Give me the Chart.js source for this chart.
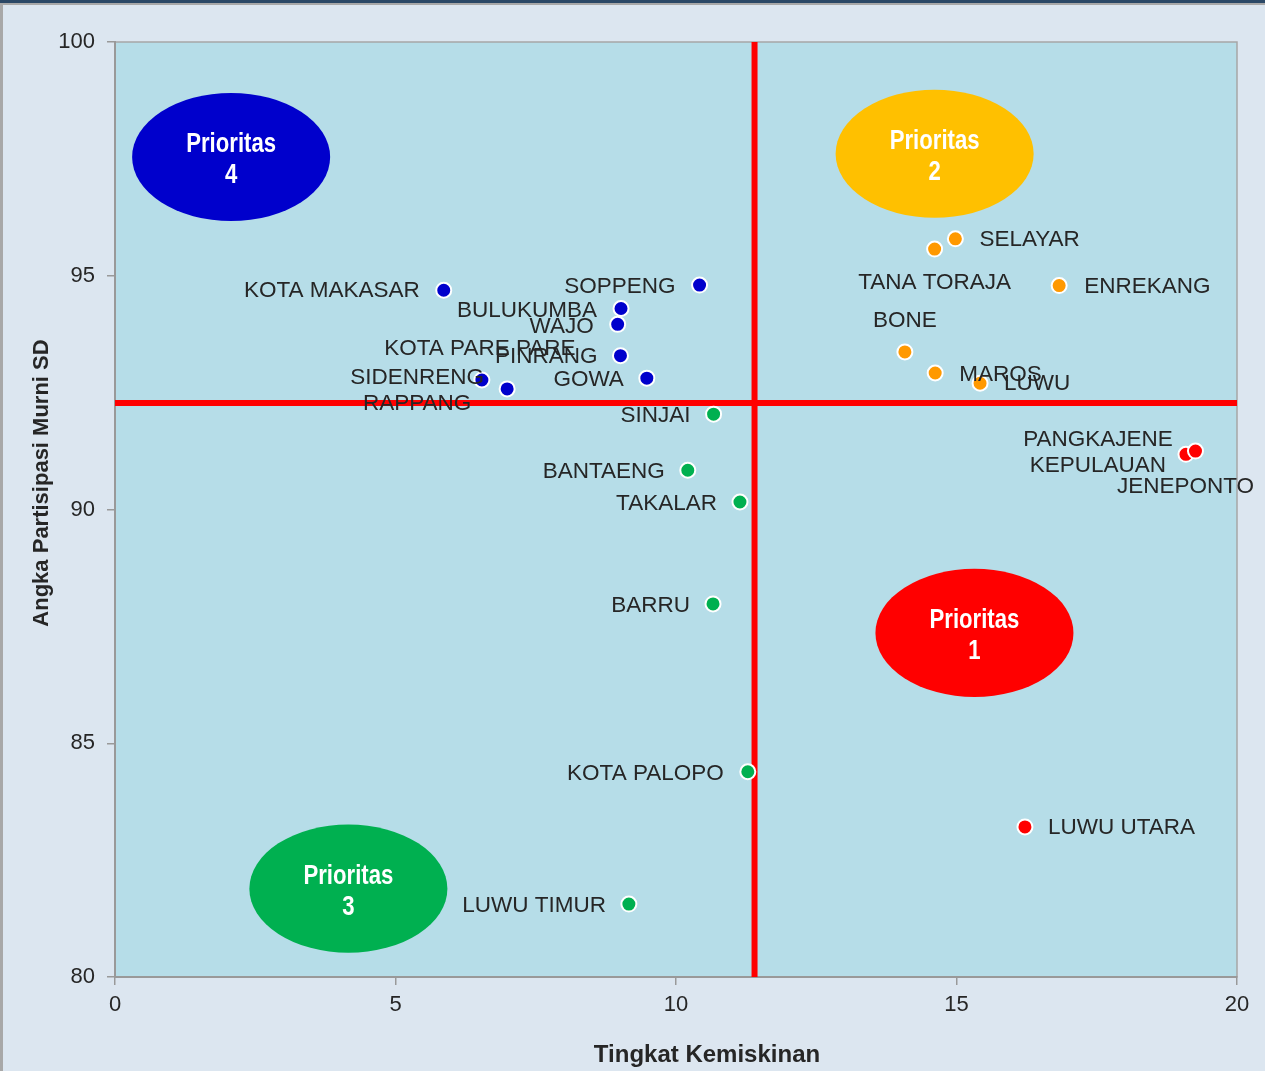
<!DOCTYPE html>
<html>
<head>
<meta charset="utf-8">
<script src="https://cdn.jsdelivr.net/npm/chart.js@4"></script>
<style>
  html, body { margin: 0; padding: 0; background: #dce6f0; }
  #wrap { width: 1265px; height: 1071px; }
</style>
</head>
<body>
<div id="wrap"><canvas id="quadChart" width="1265" height="1071"></canvas></div>
<script>
// --- data ---
const blueNames = ['KOTA MAKASAR', 'SOPPENG', 'BULUKUMBA', 'WAJO', 'PINRANG', 'KOTA PARE PARE', 'SIDENRENG\nRAPPANG', 'GOWA'];
const blueX = [5.86, 10.42, 9.02, 8.96, 9.01, 6.54, 6.99, 9.48];
const blueY = [94.69, 94.80, 94.30, 93.96, 93.29, 92.77, 92.58, 92.81];

const orangeNames = ['SELAYAR', 'TANA TORAJA', 'ENREKANG', 'BONE', 'MAROS', 'LUWU'];
const orangeX = [14.98, 14.61, 16.83, 14.08, 14.62, 15.42];
const orangeY = [95.79, 95.57, 94.79, 93.37, 92.92, 92.70];

const greenNames = ['SINJAI', 'BANTAENG', 'TAKALAR', 'BARRU', 'KOTA PALOPO', 'LUWU TIMUR'];
const greenX = [10.67, 10.21, 11.14, 10.66, 11.28, 9.16];
const greenY = [92.04, 90.84, 90.16, 87.98, 84.39, 81.56];

const redNames = ['PANGKAJENE\nKEPULAUAN', 'JENEPONTO', 'LUWU UTARA'];
const redX = [19.09, 19.26, 16.22];
const redY = [91.18, 91.25, 83.21];

// quadrant dividers
const cutX = 11.40;
const cutY = 92.28;

// priority bubbles (centre in data units)
const prioritasNo = ['4', '2', '1', '3'];
const prioritasX = [2.07, 14.61, 15.32, 4.16];
const prioritasY = [97.54, 97.61, 87.36, 81.89];

const xTicks = [0, 5, 10, 15, 20];
const yTicks = [80, 85, 90, 95, 100];

// --- styling / label placement (pixels) ---
const prioritasColors = ['#0000cc', '#ffc000', '#ff0000', '#00b050'];
const bubbleRx = 1.765, bubbleRy = 1.37;   // radii in axis units

const labelPos = {
    'KOTA MAKASAR': [-24, 1, 'right'],
    'SOPPENG': [-24, 2, 'right'],
    'BULUKUMBA': [-24, 2, 'right'],
    'WAJO': [-24, 2, 'right'],
    'PINRANG': [-23, 1, 'right'],
    'KOTA PARE PARE': [-2, -31, 'center'],
    'SIDENRENG\nRAPPANG': [-90, 2, 'center'],
    'GOWA': [-23, 2, 'right'],
    'SINJAI': [-23, 2, 'right'],
    'BANTAENG': [-23, 2, 'right'],
    'TAKALAR': [-23, 2, 'right'],
    'BARRU': [-23, 2, 'right'],
    'KOTA PALOPO': [-24, 2, 'right'],
    'LUWU TIMUR': [-23, 2, 'right'],
    'SELAYAR': [24, 1, 'left'],
    'TANA TORAJA': [0, 34, 'center'],
    'ENREKANG': [25, 1, 'left'],
    'BONE': [0, -31, 'center'],
    'MAROS': [24, 2, 'left'],
    'LUWU': [24, 1, 'left'],
    'PANGKAJENE\nKEPULAUAN': [-88, -2, 'center'],
    'JENEPONTO': [-10, 36, 'center'],
    'LUWU UTARA': [23, 1, 'left']
};

function toPoints(xs, ys) {
    return xs.map((x, i) => ({ x: x, y: ys[i] }));
}

function pointSet(names, xs, ys, color) {
    return {
        type: 'scatter',
        names: names,
        data: toPoints(xs, ys),
        backgroundColor: color,
        borderColor: '#ffffff',
        borderWidth: 2,
        pointRadius: 7.5,
        order: 1
    };
}

function cutLine(points) {
    return {
        type: 'line',
        data: points,
        borderColor: '#ff0000',
        borderWidth: 6,
        pointRadius: 0,
        fill: false,
        clip: 4,
        order: 2
    };
}

// page frame, plot fill, bubbles, labels
const backdrop = {
    id: 'backdrop',
    beforeDraw(chart) {
        const { ctx, width, height, chartArea: a } = chart;
        ctx.save();
        ctx.fillStyle = '#dce6f0';
        ctx.fillRect(0, 0, width, height);
        ctx.fillStyle = '#2b4866';
        ctx.fillRect(0, 0, width, 3);
        ctx.fillStyle = '#a8a8a8';
        ctx.fillRect(0, 3, width, 2);
        ctx.fillRect(0, 3, 3, height);
        ctx.fillStyle = '#b6dde8';
        ctx.fillRect(a.left, a.top, a.right - a.left, a.bottom - a.top);
        ctx.strokeStyle = '#a6a6a6';
        ctx.lineWidth = 1.5;
        ctx.strokeRect(a.left, a.top, a.right - a.left, a.bottom - a.top);
        ctx.restore();
    },
    beforeDatasetsDraw(chart) {
        const { ctx, scales: { x, y } } = chart;
        ctx.save();
        prioritasNo.forEach((no, i) => {
            const cx = x.getPixelForValue(prioritasX[i]);
            const cy = y.getPixelForValue(prioritasY[i]);
            const rx = x.getPixelForValue(prioritasX[i] + bubbleRx) - cx;
            const ry = cy - y.getPixelForValue(prioritasY[i] + bubbleRy);
            ctx.beginPath();
            ctx.ellipse(cx, cy, rx, ry, 0, 0, Math.PI * 2);
            ctx.fillStyle = prioritasColors[i];
            ctx.fill();

            // narrow bold text
            ctx.save();
            ctx.translate(cx, cy);
            ctx.scale(0.82, 1);
            ctx.fillStyle = '#ffffff';
            ctx.font = 'bold 27px "Liberation Sans", Arial, sans-serif';
            ctx.textAlign = 'center';
            ctx.textBaseline = 'middle';
            ctx.fillText('Prioritas', 0, -12);
            ctx.fillText(no, 0, 19);
            ctx.restore();
        });
        ctx.restore();
    },
    afterDatasetsDraw(chart) {
        const ctx = chart.ctx;
        ctx.save();
        ctx.fillStyle = '#262626';
        ctx.font = '22.5px "Liberation Sans", Arial, sans-serif';
        ctx.textBaseline = 'middle';
        chart.data.datasets.forEach((ds, di) => {
            if (!ds.names) return;
            const meta = chart.getDatasetMeta(di);
            meta.data.forEach((pt, j) => {
                const name = ds.names[j];
                const pos = labelPos[name] || [-24, 0, 'right'];
                const lines = name.split('\n');
                ctx.textAlign = pos[2];
                const y0 = pt.y + pos[1] - (lines.length - 1) * 13;
                lines.forEach((ln, k) => ctx.fillText(ln, pt.x + pos[0], y0 + k * 26));
            });
        });

        // axis titles
        ctx.font = 'bold 24px "Liberation Sans", Arial, sans-serif';
        ctx.textAlign = 'center';
        ctx.fillText('Tingkat Kemiskinan', 707, 1055);
        ctx.save();
        ctx.translate(42, 483);
        ctx.rotate(-Math.PI / 2);
        ctx.font = 'bold 22px "Liberation Sans", Arial, sans-serif';
        ctx.fillText('Angka Partisipasi Murni SD', 0, 0);
        ctx.restore();
        ctx.restore();
    }
};

const ctx = document.getElementById('quadChart').getContext('2d');

new Chart(ctx, {
    data: {
        datasets: [
            pointSet(blueNames, blueX, blueY, '#0000cc'),
            pointSet(orangeNames, orangeX, orangeY, '#ff9900'),
            pointSet(greenNames, greenX, greenY, '#00b050'),
            pointSet(redNames, redX, redY, '#ff0000'),
            cutLine([{ x: xTicks[0], y: cutY }, { x: xTicks[xTicks.length - 1], y: cutY }]),
            cutLine([{ x: cutX, y: yTicks[0] }, { x: cutX, y: yTicks[yTicks.length - 1] }])
        ]
    },
    options: {
        responsive: false,
        animation: false,
        layout: { padding: { top: 42, right: 28, left: 0, bottom: 0 } },
        plugins: {
            legend: { display: false },
            tooltip: { enabled: false }
        },
        scales: {
            x: {
                type: 'linear',
                min: xTicks[0],
                max: xTicks[xTicks.length - 1],
                afterBuildTicks: s => { s.ticks = xTicks.map(v => ({ value: v })); },
                afterFit: s => { s.height = 94; },
                grid: { drawOnChartArea: false, tickLength: 8, color: '#999999', lineWidth: 1.5 },
                border: { color: '#999999', width: 2 },
                ticks: { color: '#262626', padding: 7, font: { size: 22, family: '"Liberation Sans", Arial' } }
            },
            y: {
                type: 'linear',
                min: yTicks[0],
                max: yTicks[yTicks.length - 1],
                afterBuildTicks: s => { s.ticks = yTicks.map(v => ({ value: v })); },
                afterFit: s => { s.width = 115; },
                grid: { drawOnChartArea: false, tickLength: 8, color: '#999999', lineWidth: 1.5 },
                border: { color: '#999999', width: 2 },
                ticks: { color: '#262626', padding: 12, font: { size: 22, family: '"Liberation Sans", Arial' } }
            }
        }
    },
    plugins: [backdrop]
});
</script>
</body>
</html>
